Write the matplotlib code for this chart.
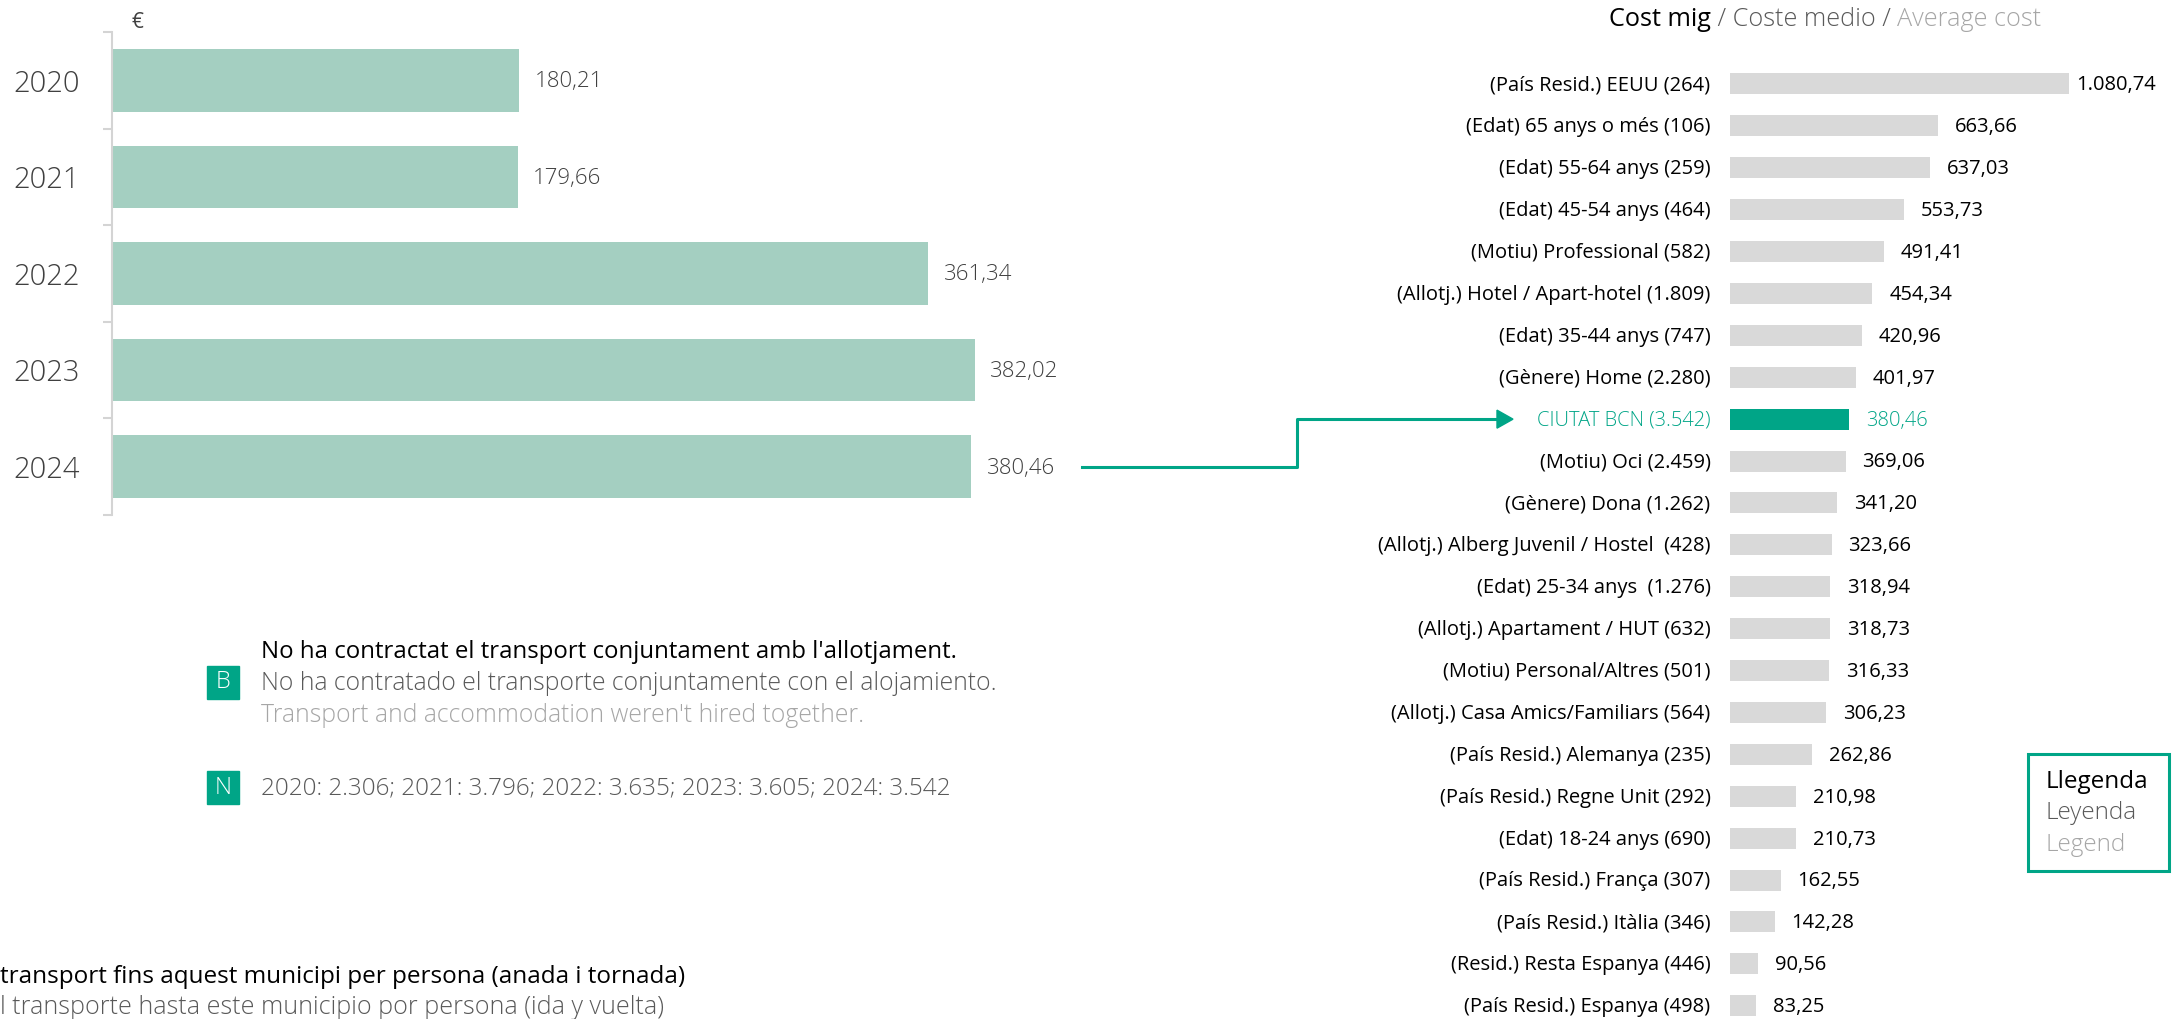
import matplotlib
matplotlib.use("Agg")
import matplotlib.pyplot as plt
from matplotlib.patches import Rectangle
from matplotlib.lines import Line2D

plt.rcParams['font.family'] = ['Open Sans', 'DejaVu Sans']

# Data
years = ['2020', '2021', '2022', '2023', '2024']
year_cost = [180.21, 179.66, 361.34, 382.02, 380.46]

segments = [
    '(País Resid.) EEUU (264)', '(Edat) 65 anys o més (106)', '(Edat) 55-64 anys (259)',
    '(Edat) 45-54 anys (464)', '(Motiu) Professional (582)', '(Allotj.) Hotel / Apart-hotel (1.809)',
    '(Edat) 35-44 anys (747)', '(Gènere) Home (2.280)', 'CIUTAT BCN (3.542)',
    '(Motiu) Oci (2.459)', '(Gènere) Dona (1.262)', '(Allotj.) Alberg Juvenil / Hostel  (428)',
    '(Edat) 25-34 anys  (1.276)', '(Allotj.) Apartament / HUT (632)', '(Motiu) Personal/Altres (501)',
    '(Allotj.) Casa Amics/Familiars (564)', '(País Resid.) Alemanya (235)', '(País Resid.) Regne Unit (292)',
    '(Edat) 18-24 anys (690)', '(País Resid.) França (307)', '(País Resid.) Itàlia (346)',
    '(Resid.) Resta Espanya (446)', '(País Resid.) Espanya (498)',
]
segment_cost = [1080.74, 663.66, 637.03, 553.73, 491.41, 454.34, 420.96, 401.97, 380.46,
                369.06, 341.20, 323.66, 318.94, 318.73, 316.33, 306.23, 262.86, 210.98,
                210.73, 162.55, 142.28, 90.56, 83.25]
highlight = 'CIUTAT BCN (3.542)'

n_text = '2020: 2.306; 2021: 3.796; 2022: 3.635; 2023: 3.605; 2024: 3.542'

TEAL = '#00A587'
LIGHT_TEAL = '#A4CFC1'
GREY_BAR = '#D9D9D9'
DARK = '#404040'
MID = '#595959'
LIGHT = '#A6A6A6'

W, H = 2182, 1019
fig = plt.figure(figsize=(W / 100, H / 100), dpi=100)


def rect(x0, top, w, h):
    return [x0 / W, 1 - (top + h) / H, w / W, h / H]


def fmt(v):
    s = f"{v:,.2f}"
    return s.replace(',', 'X').replace('.', ',').replace('X', '.')


# Left chart: yearly average cost
ax1 = fig.add_axes(rect(112, 32, 994, 483))
ax1.barh(range(len(years)), year_cost, height=0.65, color=LIGHT_TEAL)
ax1.set_xlim(0, 440)
ax1.set_ylim(len(years) - 0.5, -0.5)
for s in ['top', 'right', 'bottom']:
    ax1.spines[s].set_visible(False)
ax1.spines['left'].set_color('#D4D4D4')
ax1.spines['left'].set_linewidth(1.5)
ax1.set_xticks([])
ax1.set_yticks(range(len(years)))
ax1.set_yticklabels(years, fontsize=21, color=DARK, fontweight='light')
ax1.tick_params(axis='y', which='major', length=0, pad=23)
ax1.set_yticks([i - 0.5 for i in range(len(years) + 1)], minor=True)
ax1.tick_params(axis='y', which='minor', length=6.5, width=1.5, color='#D4D4D4')
for i, v in enumerate(year_cost):
    ax1.annotate(fmt(v), (v, i), xytext=(11, -1), textcoords='offset points',
                 va='center', ha='left', fontsize=16, color=DARK, fontweight='light')
fig.text(137 / W, 1 - 22 / H, '€', fontsize=15, color=DARK, ha='center', va='center')

# Right chart: average cost by segment
ax2 = fig.add_axes(rect(1730, 63, 440, 23 * 41.9))
colors = [TEAL if s == highlight else GREY_BAR for s in segments]
ax2.barh(range(len(segments)), segment_cost, height=0.5, color=colors)
ax2.set_xlim(0, 1403)
ax2.set_ylim(len(segments) - 0.5, -0.5)
ax2.axis('off')
for i, (s, v) in enumerate(zip(segments, segment_cost)):
    c = TEAL if s == highlight else 'black'
    w = 'light' if s == highlight else 'normal'
    ax2.annotate(s, (0, i), xytext=(-14, -1), textcoords='offset points',
                 ha='right', va='center', fontsize=14.5, color=c, fontweight=w)
    off = 5 if v > 1000 else 12
    ax2.annotate(fmt(v), (v, i), xytext=(off, -1), textcoords='offset points',
                 ha='left', va='center', fontsize=14.5, color=c, fontweight=w)

# Title of right chart in three colours
t1 = fig.text(1609 / W, 1 - 20 / H, 'Cost mig', fontsize=18.2, color='black', va='center')
t2 = fig.text(0, 0, ' / Coste medio / ', fontsize=18.2, color=MID, fontweight='light')
t3 = fig.text(0, 0, 'Average cost', fontsize=18.2, color=LIGHT, fontweight='light')
fig.canvas.draw()
r = fig.canvas.get_renderer()
bb1 = t1.get_window_extent(r)
t2.set_position((bb1.x1 / W, 1 - 20 / H))
t2.set_va('center')
bb2 = t2.get_window_extent(r)
t3.set_position((bb2.x1 / W, 1 - 20 / H))
t3.set_va('center')

# Connector arrow from 2024 bar to CIUTAT BCN row
p0 = ax1.transData.transform((year_cost[-1], len(years) - 1))
p2 = ax2.transData.transform((0, segments.index(highlight)))
x_start = p0[0] + 111
x_mid = 1297
x_end = p2[0] - 217
fig.add_artist(Line2D([x_start / W, x_mid / W, x_mid / W, (x_end - 14) / W],
                      [p0[1] / H, p0[1] / H, p2[1] / H, p2[1] / H],
                      color=TEAL, lw=2.2, transform=fig.transFigure))
fig.add_artist(plt.Polygon([[(x_end - 16) / W, (p2[1] + 9) / H], [x_end / W, p2[1] / H],
                            [(x_end - 16) / W, (p2[1] - 9) / H]],
                           closed=True, color=TEAL, transform=fig.transFigure))

# Legend box
fig.add_artist(Rectangle((2028 / W, 1 - 871 / H), 141 / W, 117 / H, fill=False,
                         edgecolor=TEAL, lw=2.2, transform=fig.transFigure))
fig.text(2046 / W, 1 - 782 / H, 'Llegenda', fontsize=17.5, color='black', va='center')
fig.text(2046 / W, 1 - 813 / H, 'Leyenda', fontsize=17.5, color=MID, va='center', fontweight='light')
fig.text(2046 / W, 1 - 845 / H, 'Legend', fontsize=17.5, color=LIGHT, va='center', fontweight='light')

# Base note (B) and sample size (N)
for letter, top in [('B', 666), ('N', 771)]:
    fig.add_artist(Rectangle((207 / W, 1 - (top + 33) / H), 32 / W, 33 / H,
                             color=TEAL, transform=fig.transFigure))
    fig.text(223 / W, 1 - (top + 16.5) / H, letter, fontsize=17, color='white',
             ha='center', va='center', fontweight='light')
fig.text(261 / W, 1 - 652 / H, "No ha contractat el transport conjuntament amb l'allotjament.",
         fontsize=17.3, color='black', va='center')
fig.text(261 / W, 1 - 683 / H, 'No ha contratado el transporte conjuntamente con el alojamiento.',
         fontsize=17.8, color=MID, va='center', fontweight='light')
fig.text(261 / W, 1 - 715 / H, "Transport and accommodation weren't hired together.",
         fontsize=17.8, color=LIGHT, va='center', fontweight='light')
fig.text(261 / W, 1 - 788 / H, n_text, fontsize=17.5, color=MID, va='center', fontweight='light')

# Clipped subtitle at the bottom
fig.text(0, 1 - 977 / H, 'transport fins aquest municipi per persona (anada i tornada)',
         fontsize=17.5, color='black', va='center')
fig.text(0, 1 - 1007 / H, 'l transporte hasta este municipio por persona (ida y vuelta)',
         fontsize=18.1, color=MID, va='center', fontweight='light')

fig.savefig('out.png', dpi=100)
